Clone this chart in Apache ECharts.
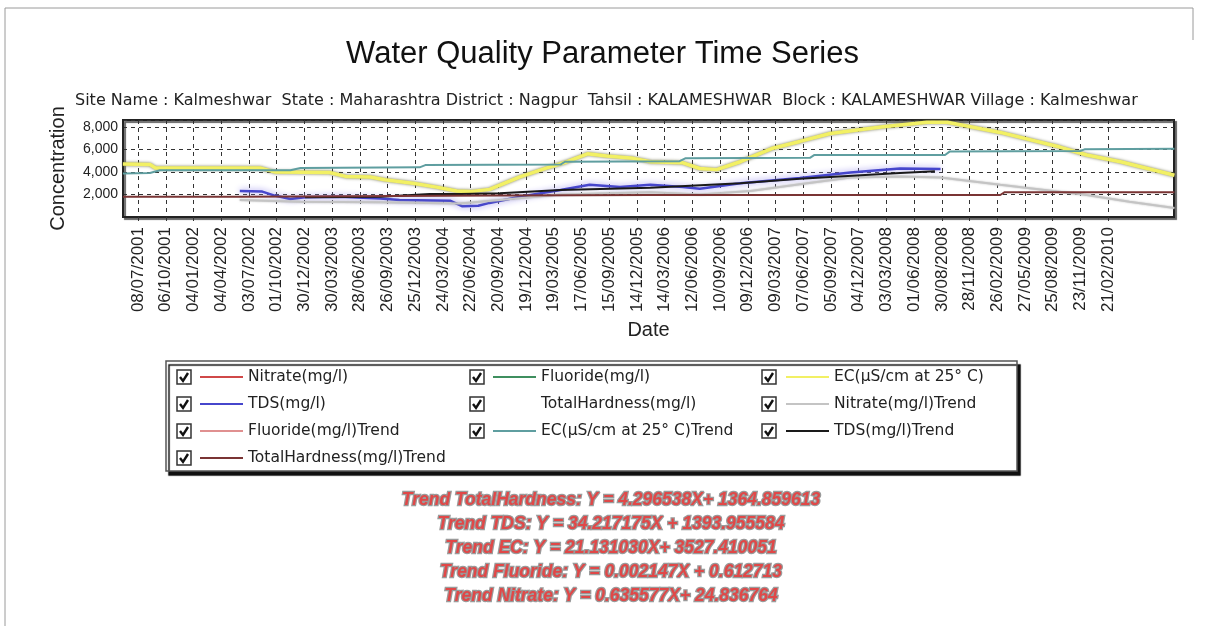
<!DOCTYPE html>
<html>
<head>
<meta charset="utf-8">
<script src="https://cdn.jsdelivr.net/npm/echarts@6/dist/echarts.min.js"></script>
<style>html,body{margin:0;padding:0;background:#fff;}#chart{width:1205px;height:626px;}</style>
</head>
<body>
<div id="chart"></div>
<script>
// ---------- DATA ----------
const chartTitle = 'Water Quality Parameter Time Series';
const siteInfo = 'Site Name : Kalmeshwar  State : Maharashtra District : Nagpur  Tahsil : KALAMESHWAR  Block : KALAMESHWAR Village : Kalmeshwar';
const yAxisName = 'Concentration';
const xAxisName = 'Date';
const axisStart = '20/05/2001';
const axisEnd = '23/09/2010';
const tickLabels = ['08/07/2001','06/10/2001','04/01/2002','04/04/2002','03/07/2002','01/10/2002','30/12/2002','30/03/2003','28/06/2003','26/09/2003','25/12/2003','24/03/2004','22/06/2004','20/09/2004','19/12/2004','19/03/2005','17/06/2005','15/09/2005','14/12/2005','14/03/2006','12/06/2006','10/09/2006','09/12/2006','09/03/2007','07/06/2007','05/09/2007','04/12/2007','03/03/2008','01/06/2008','30/08/2008','28/11/2008','26/02/2009','27/05/2009','25/08/2009','23/11/2009','21/02/2010'];
const yTicks = [2000, 4000, 6000, 8000];

const seriesNames = ['Nitrate(mg/l)','Fluoride(mg/l)','EC(µS/cm at 25° C)','TDS(mg/l)','TotalHardness(mg/l)','Nitrate(mg/l)Trend','Fluoride(mg/l)Trend','EC(µS/cm at 25° C)Trend','TDS(mg/l)Trend','TotalHardness(mg/l)Trend'];

// [decimal year, value]
const nitrateData = [];
const fluorideData = [];
const totalHardnessData = [];
const fluorideTrendData = [];
const ecData = [[2001.38,4700],[2001.62,4650],[2001.67,4350],[2002.60,4350],[2002.73,4000],[2003.22,3950],[2003.36,3600],[2003.58,3550],[2003.71,3300],[2003.96,3000],[2004.17,2650],[2004.35,2300],[2004.47,2250],[2004.64,2450],[2004.91,3550],[2005.15,4350],[2005.33,4900],[2005.51,5600],[2005.68,5400],[2005.92,5200],[2006.07,4900],[2006.36,4800],[2006.51,4300],[2006.66,4200],[2006.87,4900],[2007.16,6100],[2007.40,6700],[2007.67,7400],[2008.14,8000],[2008.53,8400],[2008.71,8400],[2009.18,7500],[2009.71,6200],[2009.95,5500],[2010.25,4900],[2010.73,3700]];
const ecTrendData = [[2001.38,3850],[2001.62,3900],[2001.71,4150],[2002.87,4150],[2002.96,4350],[2004.02,4400],[2004.07,4600],[2005.27,4650],[2005.31,4900],[2006.33,4950],[2006.38,5200],[2007.49,5250],[2007.53,5500],[2008.69,5500],[2008.73,5800],[2009.89,5850],[2009.93,6000],[2010.73,6050]];
const tdsData = [[2002.42,2300],[2002.62,2250],[2002.73,1900],[2002.87,1600],[2003.00,1750],[2003.31,1800],[2003.67,1650],[2003.84,1500],[2004.29,1450],[2004.40,950],[2004.54,1000],[2004.64,1250],[2004.91,1800],[2005.27,2400],[2005.53,2850],[2005.80,2650],[2006.07,2850],[2006.36,2650],[2006.51,2500],[2006.87,3000],[2007.40,3450],[2007.85,3950],[2008.29,4300],[2008.65,4250]];
const tdsTrendData = [[2003.00,1750],[2003.67,1800],[2004.11,2050],[2004.38,2050],[2004.73,2100],[2005.27,2400],[2006.07,2600],[2006.87,3000],[2007.40,3400],[2008.29,3900],[2008.60,4050]];
const nitrateTrendData = [[2002.42,1500],[2002.96,1350],[2003.67,1300],[2004.38,1200],[2004.73,1500],[2005.27,2000],[2006.07,2200],[2006.51,2000],[2006.96,2300],[2007.40,2900],[2007.85,3500],[2008.29,3600],[2008.65,3500],[2009.18,2850],[2009.95,1950],[2010.33,1350],[2010.73,800]];
const totalHardnessTrendData = [[2001.38,1800],[2002.42,1800],[2004.73,1900],[2006.07,1950],[2009.18,1950],[2009.22,2200],[2010.73,2200]];

const trendLabels = [
  'Trend TotalHardness: Y = 4.296538X+ 1364.859613',
  'Trend TDS: Y = 34.217175X + 1393.955584',
  'Trend EC: Y = 21.131030X+ 3527.410051',
  'Trend Fluoride: Y = 0.002147X + 0.612713',
  'Trend Nitrate: Y = 0.635577X+ 24.836764'
];

// ---------- helpers ----------
function parseDMY(s){ const p = s.split('/'); return Date.UTC(+p[2], +p[1]-1, +p[0]); }
function fmtDMY(v){ const d = new Date(v); const dd = String(d.getUTCDate()).padStart(2,'0'); const mm = String(d.getUTCMonth()+1).padStart(2,'0'); return dd+'/'+mm+'/'+d.getUTCFullYear(); }
function decYear(y){ const f = Math.floor(y); const a = Date.UTC(f,0,1), b = Date.UTC(f+1,0,1); return a + (y-f)*(b-a); }
function conv(arr){ return arr.map(p => [decYear(p[0]), p[1]]); }

const FONT = '"Liberation Sans", Arial, sans-serif';
const WIDEFONT = '"DejaVu Sans", "Liberation Sans", sans-serif';
const colors = ['#d04848','#3f8f5f','#f2f064','#4646cc','#ffffff','#c4c4c4','#e09090','#5f9ea0','#1a1a1a','#7a3434'];
const dataList = [nitrateData, fluorideData, ecData, tdsData, totalHardnessData, nitrateTrendData, fluorideTrendData, ecTrendData, tdsTrendData, totalHardnessTrendData];
const widths = [2,2,3.5,2.5,2,2,2,2,2,2];

const series = seriesNames.map((n,i) => {
  const ls = {color: colors[i], width: widths[i]};
  if (i === 2) { ls.shadowColor = 'rgba(110,110,70,0.9)'; ls.shadowBlur = 3; }
  if (i === 3) { ls.shadowColor = 'rgba(150,140,235,1)'; ls.shadowBlur = 6; }
  if (i === 5) { ls.shadowColor = 'rgba(160,160,160,0.7)'; ls.shadowBlur = 2; }
  return {name: n, type: 'line', data: conv(dataList[i]), showSymbol: false, symbol: 'none', color: colors[i], lineStyle: ls, z: 2+i};
});

const tickTs = tickLabels.map(parseDMY);

// legend layout: 3 columns x 4 rows
const legendRows = [[0,1,2],[3,4,5],[6,7,8],[9]];
const rowCenters = [377, 404, 431, 458];
const colLeft = [177, 470, 762];
const legends = legendRows.map((r,ri) => ({
  data: r.map(i => seriesNames[i]),
  left: 200, top: rowCenters[ri]-9, orient: 'horizontal', padding: 0,
  icon: 'rect', itemWidth: 43, itemHeight: 2, itemGap: 40, selectedMode: false,
  textStyle: {fontFamily: WIDEFONT, fontSize: 15.5, color: '#222', width: r.length === 1 ? 260 : 205, overflow: 'none', lineHeight: 18}
}));

const graphics = [
  {type: 'polyline', shape: {points: [[1193,40],[1193,8],[5,8],[5,626]]}, style: {stroke: '#9a9a9a', lineWidth: 1, fill: null}, silent: true},
  {type: 'rect', shape: {x: 166, y: 361, width: 851, height: 110}, style: {fill: '#fff', stroke: '#555', lineWidth: 1.5, shadowColor: '#111', shadowOffsetX: 3, shadowOffsetY: 4, shadowBlur: 1}, z: -1, silent: true}
];
legendRows.forEach((r,ri) => r.forEach((i,ci) => {
  const x = colLeft[ci], y = rowCenters[ri]-7;
  graphics.push({type: 'group', x: x, y: y, silent: true, children: [
    {type: 'rect', shape: {x: 0, y: 0, width: 14, height: 14}, style: {fill: '#fff', stroke: '#333', lineWidth: 1.5}},
    {type: 'polyline', shape: {points: [[3,7],[6,11],[11,3]]}, style: {stroke: '#111', lineWidth: 2.4, fill: null}}
  ]});
}));
trendLabels.forEach((t,i) => {
  graphics.push({type: 'text', x: 611, y: 500 + i*24, silent: true, style: {text: t, align: 'center', verticalAlign: 'middle', font: 'italic bold 17.5px ' + FONT, fill: '#e04848', stroke: '#9a9a9a', lineWidth: 2.5}});
});

const chart = echarts.init(document.getElementById('chart'), null, {renderer: 'canvas'});
chart.setOption({
  animation: false,
  backgroundColor: '#fff',
  title: [
    {text: chartTitle, left: 'center', top: 34, textStyle: {fontFamily: FONT, fontSize: 31, fontWeight: 'normal', color: '#111'}},
    {text: siteInfo, left: 70, top: 88, textStyle: {fontFamily: WIDEFONT, fontSize: 16, fontWeight: 'normal', color: '#222'}}
  ],
  grid: {left: 123, top: 120, right: 31, bottom: 409, show: true, borderColor: '#222', borderWidth: 2, backgroundColor: '#fff', shadowColor: '#666', shadowOffsetX: 2, shadowOffsetY: 2, shadowBlur: 1},
  xAxis: {
    type: 'value', min: parseDMY(axisStart), max: parseDMY(axisEnd),
    name: xAxisName, nameLocation: 'middle', nameGap: 103,
    nameTextStyle: {fontFamily: FONT, fontSize: 20, color: '#222'},
    axisLine: {show: true, lineStyle: {color: '#222', width: 2}},
    axisTick: {show: true, customValues: tickTs, length: 4, lineStyle: {color: '#333'}},
    axisLabel: {customValues: tickTs, rotate: 90, formatter: v => fmtDMY(v), fontFamily: FONT, fontSize: 17, color: '#222', margin: 10},
    splitLine: {show: true, lineStyle: {color: '#333', type: [4,4], width: 1}}
  },
  yAxis: {
    type: 'value', min: 0, max: 8600, interval: 2000,
    name: yAxisName, nameLocation: 'middle', nameGap: 55,
    nameTextStyle: {fontFamily: FONT, fontSize: 20, color: '#222'},
    axisLine: {show: true, lineStyle: {color: '#222', width: 2}},
    axisTick: {show: false},
    axisLabel: {formatter: v => (yTicks.indexOf(v) >= 0 ? v.toLocaleString('en-US') : ''), fontFamily: FONT, fontSize: 14, color: '#222', margin: 5},
    splitLine: {show: true, lineStyle: {color: '#333', type: [4,4], width: 1}}
  },
  legend: legends,
  series: series,
  graphic: graphics
});
</script>
</body>
</html>
